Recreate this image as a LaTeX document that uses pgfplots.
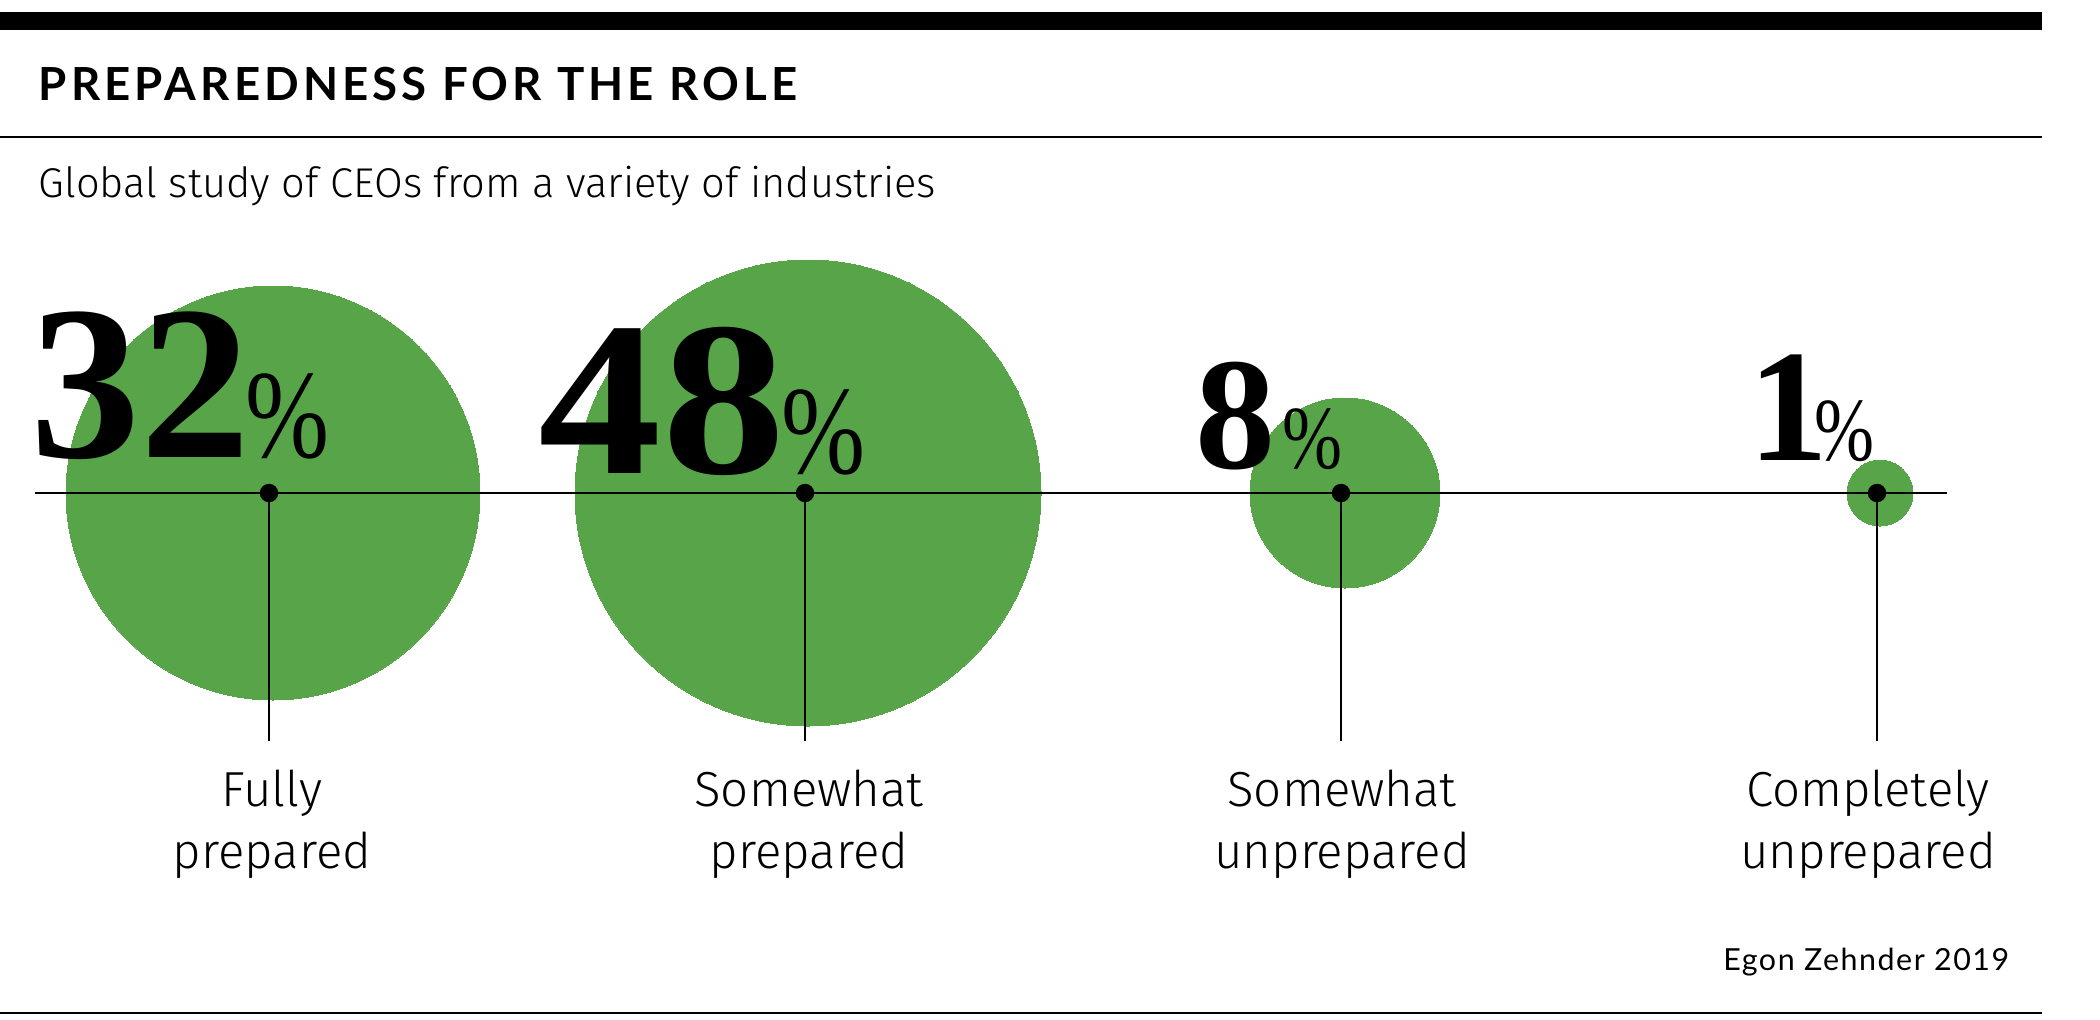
\documentclass[border=0pt]{standalone}
\usepackage{fontspec}
\usepackage{graphicx}
\usepackage{pgfplots}
\usepackage{pgfplotstable}
\pgfplotsset{compat=1.18}

\IfFontExistsTF{Fira Sans Light}{\newfontfamily\lightfont{Fira Sans Light}}{\newfontfamily\lightfont{Fira Sans}}
\newfontfamily\titlefont{Lato}[LetterSpace=9]
\newfontfamily\footfont{Lato}[LetterSpace=5]
\newfontfamily\numfont{Liberation Serif}
\definecolor{bubble}{RGB}{88,165,73}

% bubbles: centre x, y (pixels from top), value (%), radius (px)
\pgfplotstableread{
x y v r
273 493 32 207
808 493 48 233
1345 493 8 95
1880 493 1 33
}\bubbles

% stems / dots
\pgfplotstableread{
x y
269 493
805 493
1341 493
1877 493
}\stems

\newcommand{\bignum}[1]{{\numfont\bfseries\fontsize{55}{55}\selectfont #1}}
\newcommand{\bigpct}{\scalebox{0.8}[1]{\numfont\fontsize{31.5}{31.5}\selectfont\%}}
\newcommand{\smallnum}[1]{{\numfont\bfseries\fontsize{40}{40}\selectfont #1}}
\newcommand{\smallpct}{\scalebox{0.8}[1]{\numfont\fontsize{22.5}{22.5}\selectfont\%}}
\newcommand{\catfont}{\lightfont\fontsize{12.3}{15}\selectfont}

\pgfplotsset{canvas/.style={
  scale only axis,
  width=525pt, height=254.75pt,
  xmin=0, xmax=2100, ymin=0, ymax=1019,
  y dir=reverse,
  hide axis,
  clip=false,
  at={(0,0)}, anchor=south west}}

\begin{document}
\begin{tikzpicture}
% layer 1: bubbles
\begin{axis}[canvas, name=ax]
\addplot[color=bubble,
  scatter, only marks, mark=*, scatter src=explicit,
  mark options={draw=bubble, fill=bubble, line width=0pt},
  scatter/use mapped color={draw=bubble, fill=bubble},
  visualization depends on={0.25*\thisrow{r} \as \bubrad},
  scatter/@pre marker code/.append style={/tikz/mark size=\bubrad}]
  table[x=x, y=y, meta=v]{\bubbles};
\end{axis}
% layer 2: lines, dots and text
\begin{axis}[canvas]
% horizontal baseline
\addplot[black, line width=0.4pt, mark=none] coordinates {(35,493) (1947,493)};
% stems
\addplot[black, line width=0.5pt, mark=none, unbounded coords=jump] coordinates {
  (269,493) (269,741) (nan,nan)
  (805,493) (805,741) (nan,nan)
  (1341,493) (1341,741) (nan,nan)
  (1877,493) (1877,741)};
% dots
\addplot[only marks, mark=*, mark size=2.1pt, black] table[x=x, y=y]{\stems};

% value labels
\node[anchor=base west, inner sep=0] at (axis cs:30,457) {\bignum{32}\kern-1.25pt\bigpct};
\node[anchor=base west, inner sep=0] at (axis cs:538,473) {\scalebox{1.12}[1]{\bignum{48}}\kern-1pt\bigpct};
\node[anchor=base west, inner sep=0] at (axis cs:1195,468) {\smallnum{8}\kern1.75pt\smallpct};
\node[anchor=base west, inner sep=0] at (axis cs:1748,460) {\smallnum{1}\kern-3.5pt\smallpct};

% category labels
\node[anchor=base, inner sep=0] at (axis cs:272,806) {\catfont Fully};
\node[anchor=base, inner sep=0] at (axis cs:272,868) {\catfont prepared};
\node[anchor=base, inner sep=0] at (axis cs:809,806) {\catfont Somewhat};
\node[anchor=base, inner sep=0] at (axis cs:809,868) {\catfont prepared};
\node[anchor=base, inner sep=0] at (axis cs:1342,806) {\catfont Somewhat};
\node[anchor=base, inner sep=0] at (axis cs:1342,868) {\catfont unprepared};
\node[anchor=base, inner sep=0] at (axis cs:1868,806) {\catfont Completely};
\node[anchor=base, inner sep=0] at (axis cs:1868,868) {\catfont unprepared};

% titles and rules
\draw[line width=4.5pt] (axis cs:0,21) -- (axis cs:2042,21);
\draw[line width=0.5pt] (axis cs:0,137) -- (axis cs:2042,137);
\draw[line width=0.5pt] (axis cs:0,1013) -- (axis cs:2042,1013);
\node[anchor=base west, inner sep=0] at (axis cs:38,100)
  {\titlefont\bfseries\fontsize{11.4}{12}\selectfont PREPAREDNESS FOR THE ROLE};
\node[anchor=base west, inner sep=0] at (axis cs:38,197)
  {\lightfont\fontsize{10.4}{12}\selectfont Global study of CEOs from a variety of industries};
\node[anchor=base east, inner sep=0] at (axis cs:2010,970)
  {\footfont\fontsize{7.6}{9}\selectfont Egon Zehnder 2019};
\end{axis}
\pgfresetboundingbox
\path (ax.south west) rectangle (ax.north east);
\end{tikzpicture}
\end{document}
